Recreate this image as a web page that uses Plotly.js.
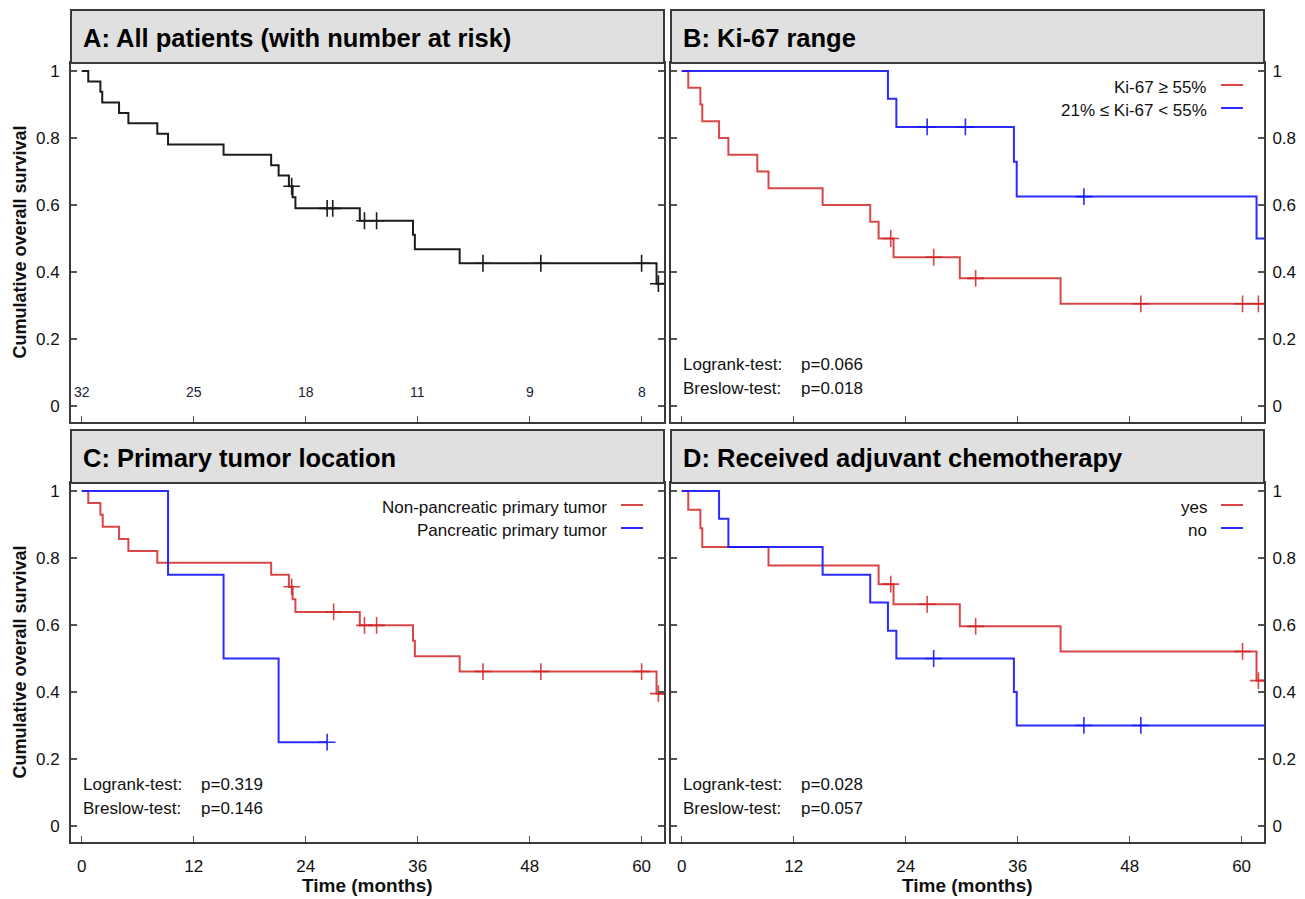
<!DOCTYPE html>
<html>
<head>
<meta charset="utf-8">
<script src="https://cdn.plot.ly/plotly-3.0.1.min.js"></script>
<style>html,body{margin:0;padding:0;background:#fff;}#chart{width:1305px;height:899px;}</style>
</head>
<body>
<div id="chart"></div>
<script>
// ---------------- DATA ----------------
// Panel A: all patients
const A_all_eventTimes = [0.7, 2.0, 2.2, 4.0, 5.0, 8.1, 9.25, 15.2, 20.3, 21.1, 22.2, 22.6, 22.9, 29.8, 35.5, 35.7, 40.5, 61.6];
const A_all_surv       = [0.969, 0.938, 0.906, 0.875, 0.844, 0.813, 0.781, 0.750, 0.719, 0.688, 0.656, 0.623, 0.590, 0.553, 0.511, 0.468, 0.426, 0.365];
const A_all_censor     = [22.5, 26.3, 26.9, 30.3, 31.6, 43.0, 49.2, 60.0, 61.8];
const A_all_last       = 62.4;
const A_riskTimes      = [0, 12, 24, 36, 48, 60];
const A_riskCounts     = [32, 25, 18, 11, 9, 8];

// Panel B: Ki-67 range
const B_hi_eventTimes  = [0.7, 2.0, 2.2, 4.0, 5.0, 8.1, 9.3, 15.1, 20.2, 21.1, 22.7, 29.8, 40.6];
const B_hi_surv        = [0.95, 0.90, 0.85, 0.80, 0.75, 0.70, 0.65, 0.60, 0.55, 0.50, 0.444, 0.381, 0.305];
const B_hi_censor      = [22.4, 27.0, 31.5, 49.2, 60.1, 61.8];
const B_hi_last        = 62.4;
const B_mid_eventTimes = [22.1, 23.0, 35.6, 35.9, 61.6];
const B_mid_surv       = [0.917, 0.833, 0.729, 0.625, 0.50];
const B_mid_censor     = [26.3, 30.4, 43.1];
const B_mid_last       = 62.4;
const B_legend         = ["Ki-67 \u2265 55%", "21% \u2264 Ki-67 < 55%"];
const B_tests          = ["p=0.066", "p=0.018"];

// Panel C: primary tumor location
const C_np_eventTimes  = [0.7, 2.0, 2.25, 4.0, 5.0, 8.1, 20.3, 22.2, 22.6, 22.9, 29.8, 35.5, 35.7, 40.5, 61.6];
const C_np_surv        = [0.964, 0.929, 0.893, 0.857, 0.821, 0.786, 0.750, 0.714, 0.677, 0.639, 0.599, 0.553, 0.507, 0.461, 0.395];
const C_np_censor      = [22.5, 27.0, 30.3, 31.6, 43.0, 49.2, 60.0, 61.8];
const C_np_last        = 62.4;
const C_p_eventTimes   = [9.25, 15.2, 21.1];
const C_p_surv         = [0.75, 0.50, 0.25];
const C_p_censor       = [26.3];
const C_p_last         = 26.3;
const C_legend         = ["Non-pancreatic primary tumor", "Pancreatic primary tumor"];
const C_tests          = ["p=0.319", "p=0.146"];

// Panel D: received adjuvant chemotherapy
const D_yes_eventTimes = [0.7, 2.0, 2.2, 9.3, 21.1, 22.7, 29.8, 40.6, 61.6];
const D_yes_surv       = [0.944, 0.889, 0.833, 0.778, 0.722, 0.662, 0.596, 0.521, 0.434];
const D_yes_censor     = [22.4, 26.3, 31.5, 60.1, 61.8];
const D_yes_last       = 62.4;
const D_no_eventTimes  = [4.0, 5.0, 15.1, 20.2, 22.1, 23.0, 35.6, 35.9];
const D_no_surv        = [0.917, 0.833, 0.75, 0.667, 0.583, 0.50, 0.40, 0.30];
const D_no_censor      = [27.0, 43.1, 49.2];
const D_no_last        = 62.4;
const D_legend         = ["yes", "no"];
const D_tests          = ["p=0.028", "p=0.057"];

const panelTitles = ["A: All patients (with number at risk)", "B: Ki-67 range", "C: Primary tumor location", "D: Received adjuvant chemotherapy"];
const xTickVals = [0, 12, 24, 36, 48, 60];
const yTickVals = [0, 0.2, 0.4, 0.6, 0.8, 1];
const yTickText = ["0", "0.2", "0.4", "0.6", "0.8", "1"];
const testNames = ["Logrank-test:", "Breslow-test:"];

// ---------------- STYLE / LAYOUT ----------------
const W = 1305, H = 899;
const FONT = "Liberation Sans, Arial, sans-serif";
const RED = "rgba(208,30,30,0.82)";
const BLUE = "rgba(20,20,255,0.9)";
const BLACK = "#1c1c1c";
const px = x => x / W;
const py = y => 1 - y / H;

const panels = [
  {left: 71,  right: 664,  top: 63,  bottom: 422, hTop: 10},
  {left: 671, right: 1264, top: 63,  bottom: 422, hTop: 10},
  {left: 71,  right: 664,  top: 483, bottom: 842, hTop: 430},
  {left: 671, right: 1264, top: 483, bottom: 842, hTop: 430}
];

function survAt(times, surv, t) {
  let s = 1;
  for (let i = 0; i < times.length; i++) if (times[i] <= t) s = surv[i];
  return s;
}

function kmTraces(times, surv, censor, last, color, ax) {
  const x = [0].concat(times, [last]);
  const y = [1].concat(surv, [surv.length ? surv[surv.length - 1] : 1]);
  const xa = 'x' + (ax === 1 ? '' : ax), ya = 'y' + (ax === 1 ? '' : ax);
  return [
    {x: x, y: y, xaxis: xa, yaxis: ya, type: 'scatter', mode: 'lines',
     line: {shape: 'hv', color: color, width: 2}, hoverinfo: 'skip', showlegend: false},
    {x: censor, y: censor.map(t => survAt(times, surv, t)), xaxis: xa, yaxis: ya,
     type: 'scatter', mode: 'markers',
     marker: {symbol: 'cross-thin', size: 12, line: {color: color, width: 1.6}, color: color},
     hoverinfo: 'skip', showlegend: false}
  ];
}

let data = [];
data = data.concat(kmTraces(A_all_eventTimes, A_all_surv, A_all_censor, A_all_last, BLACK, 1));
data = data.concat(kmTraces(B_hi_eventTimes, B_hi_surv, B_hi_censor, B_hi_last, RED, 2));
data = data.concat(kmTraces(B_mid_eventTimes, B_mid_surv, B_mid_censor, B_mid_last, BLUE, 2));
data = data.concat(kmTraces(C_np_eventTimes, C_np_surv, C_np_censor, C_np_last, RED, 3));
data = data.concat(kmTraces(C_p_eventTimes, C_p_surv, C_p_censor, C_p_last, BLUE, 3));
data = data.concat(kmTraces(D_yes_eventTimes, D_yes_surv, D_yes_censor, D_yes_last, RED, 4));
data = data.concat(kmTraces(D_no_eventTimes, D_no_surv, D_no_censor, D_no_last, BLUE, 4));

const layout = {
  width: W, height: H,
  margin: {l: 0, r: 0, t: 0, b: 0},
  paper_bgcolor: '#fff', plot_bgcolor: '#fff',
  font: {family: FONT, color: '#111'},
  showlegend: false,
  shapes: [], annotations: []
};

panels.forEach((p, i) => {
  const n = i + 1;
  const suffix = n === 1 ? '' : String(n);
  const bottomRow = i >= 2;
  const rightCol = i % 2 === 1;
  layout['xaxis' + suffix] = {
    domain: [px(p.left), px(p.right)],
    anchor: 'y' + suffix,
    range: [-1.15, 62.4],
    tickvals: xTickVals,
    ticks: 'inside', ticklen: 6, tickwidth: 1.5, tickcolor: '#555',
    showline: true, linecolor: '#3a3a3a', linewidth: 2, mirror: true,
    showgrid: false, zeroline: false,
    showticklabels: bottomRow,
    tickfont: {family: FONT, size: 17, color: '#111'},
    ticklabelstandoff: 8,
    fixedrange: true
  };
  layout['yaxis' + suffix] = {
    domain: [py(p.bottom), py(p.top)],
    anchor: 'x' + suffix,
    range: [-0.048, 1.024],
    tickvals: yTickVals, ticktext: yTickText,
    side: rightCol ? 'right' : 'left',
    ticks: 'inside', ticklen: 6, tickwidth: 1.5, tickcolor: '#555',
    showline: true, linecolor: '#3a3a3a', linewidth: 2, mirror: 'ticks',
    showgrid: false, zeroline: false,
    tickfont: {family: FONT, size: 17, color: '#111'},
    ticklabelstandoff: rightCol ? 3 : 6,
    fixedrange: true
  };
  // header band
  layout.shapes.push({type: 'rect', xref: 'paper', yref: 'paper',
    x0: px(p.left), x1: px(p.right), y0: py(p.top), y1: py(p.hTop),
    fillcolor: '#e0e0e0', line: {color: '#3a3a3a', width: 2}, layer: 'above'});
  layout.annotations.push({xref: 'paper', yref: 'paper', x: px(p.left + 10), y: py(p.hTop + 28),
    xanchor: 'left', yanchor: 'middle', showarrow: false, text: '<b>' + panelTitles[i] + '</b>',
    font: {family: FONT, size: 25.5, color: '#000'}});
  // axis titles
  if (!rightCol) {
    layout.annotations.push({xref: 'paper', yref: 'paper', x: px(19), y: py((p.top + p.bottom) / 2),
      xanchor: 'center', yanchor: 'middle', showarrow: false, textangle: -90,
      text: '<b>Cumulative overall survival</b>', font: {family: FONT, size: 18, color: '#111'}});
  }
  if (bottomRow) {
    layout.annotations.push({xref: 'paper', yref: 'paper', x: px((p.left + p.right) / 2), y: py(885),
      xanchor: 'center', yanchor: 'middle', showarrow: false,
      text: '<b>Time (months)</b>', font: {family: FONT, size: 19, color: '#111'}});
  }
});

// number at risk (panel A)
A_riskTimes.forEach((t, k) => {
  layout.annotations.push({xref: 'x', yref: 'y', x: t, y: 0.042, showarrow: false,
    xanchor: 'center', yanchor: 'middle', text: String(A_riskCounts[k]),
    font: {family: FONT, size: 14, color: '#1a1a30'}});
});

// legends & test results for B, C, D
const legends = [null, B_legend, C_legend, D_legend];
const tests = [null, B_tests, C_tests, D_tests];
const legendColors = [RED, BLUE];
panels.forEach((p, i) => {
  if (!legends[i]) return;
  legends[i].forEach((lab, k) => {
    const yy = p.top + 24 + k * 23;
    layout.annotations.push({xref: 'paper', yref: 'paper', x: px(p.right - 55), y: py(yy),
      xanchor: 'right', yanchor: 'middle', showarrow: false, text: lab,
      font: {family: FONT, size: 17, color: '#111'}});
    layout.shapes.push({type: 'line', xref: 'paper', yref: 'paper',
      x0: px(p.right - 43), x1: px(p.right - 21), y0: py(yy - 2), y1: py(yy - 2),
      line: {color: legendColors[k], width: 2}});
  });
  tests[i].forEach((v, k) => {
    const yy = p.top + 301 + k * 24;
    layout.annotations.push({xref: 'paper', yref: 'paper', x: px(p.left + 10), y: py(yy),
      xanchor: 'left', yanchor: 'middle', showarrow: false, text: testNames[k],
      font: {family: FONT, size: 17, color: '#111'}});
    layout.annotations.push({xref: 'paper', yref: 'paper', x: px(p.left + 128), y: py(yy),
      xanchor: 'left', yanchor: 'middle', showarrow: false, text: v,
      font: {family: FONT, size: 17, color: '#111'}});
  });
});

Plotly.newPlot('chart', data, layout, {displayModeBar: false, staticPlot: true});
</script>
</body>
</html>
